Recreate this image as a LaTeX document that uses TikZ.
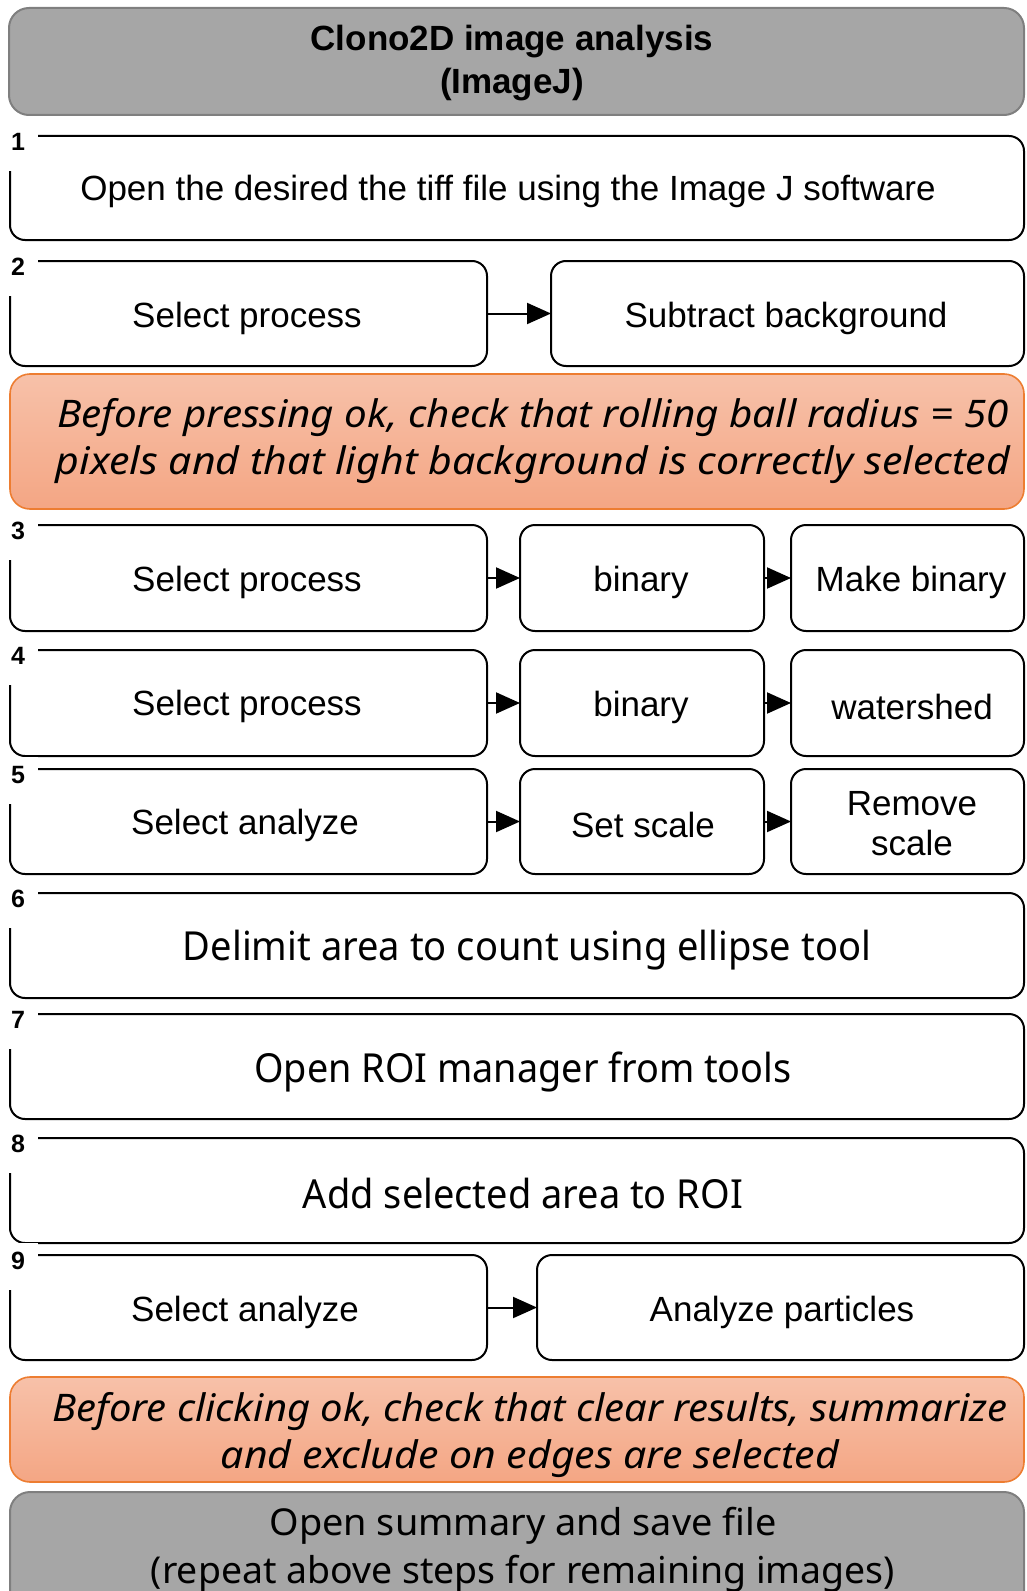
\documentclass[tikz,border=0pt]{standalone}
\usepackage{fontspec}
\usepackage{graphicx}
\setmainfont{Liberation Sans}
\newfontfamily\seg{Noto Sans}
\usetikzlibrary{arrows.meta}
\definecolor{hdrfill}{RGB}{166,166,166}
\definecolor{hdrdraw}{RGB}{127,127,127}
\definecolor{orgdraw}{RGB}{237,125,49}
\definecolor{orgtop}{RGB}{247,193,169}
\definecolor{orgbot}{RGB}{244,166,132}
\newcommand\fitw[2]{\resizebox{#1bp}{\height}{#2}}
\newcommand\mkbox[6]{%
  \node[#1, minimum width={(#5-#3)*1bp}, minimum height={(#6-#4)*1bp}] (#2) at ({(#3+#5)/2},{(#4+#6)/2}) {};}
\newcommand\mknum[3]{%
  \fill[white] (0,#2-12) rectangle (38,#2+35);
  \node[numlab] (#1) at (18,#2+6) {#3};}
\begin{document}
\begin{tikzpicture}[x=1bp,y=-1bp,
  stepbox/.style={draw=black, line width=2bp, rounded corners=15bp, fill=white, inner sep=0pt, outer sep=0pt},
  graybox/.style={draw=hdrdraw, line width=2bp, rounded corners=20bp, fill=hdrfill, inner sep=0pt, outer sep=0pt},
  notebox/.style={draw=orgdraw, line width=1.6bp, rounded corners=20bp, top color=orgtop, bottom color=orgbot, inner sep=0pt, outer sep=0pt},
  numlab/.style={font=\bfseries\fontsize{25bp}{25bp}\selectfont, inner sep=0pt},
  txt/.style={font=\fontsize{35bp}{42bp}\selectfont, inner sep=0pt, align=center},
  segtxt/.style={font=\seg\fontsize{40bp}{48bp}\selectfont, inner sep=0pt, align=center},
  notetxt/.style={font=\seg\itshape\fontsize{38bp}{47bp}\selectfont, inner sep=0pt, align=center},
  arr/.style={line width=2bp, -{Triangle[length=24bp,width=21bp]}}
]
\useasboundingbox (0,0) rectangle (1026,1591);
\clip (0,0) rectangle (1026,1591);

% header
\mkbox{graybox}{hdr}{9}{8}{1024}{115}
\node[txt, font=\bfseries\fontsize{35bp}{43bp}\selectfont] (hdrt) at (512,63) {Clono2D image analysis\\(ImageJ)};

% step 1
\mkbox{stepbox}{s1}{10}{136}{1024}{240}
\mknum{n1}{136}{1}
\node[txt] (s1t) at (508,191) {Open the desired the tiff file using the Image J software};

% step 2
\mkbox{stepbox}{s2a}{10}{261}{487}{366}
\mkbox{stepbox}{s2b}{551}{261}{1024}{366}
\mknum{n2}{261}{2}
\node[txt] (s2at) at (247,318) {Select process};
\node[txt] (s2bt) at (786,318) {Subtract background};
\draw[arr] (s2a.east) -- (s2b.west);

% note 1
\mkbox{notebox}{o1}{10}{374}{1024}{509}
\node[notetxt] (o1t) at (533,441) {\fitw{951}{Before pressing ok, check that rolling ball radius = 50}\\\fitw{954}{pixels and that light background is correctly selected}};

% step 3
\mkbox{stepbox}{s3a}{10}{525}{487}{631}
\mkbox{stepbox}{s3b}{520}{525}{764}{631}
\mkbox{stepbox}{s3c}{791}{525}{1024}{631}
\mknum{n3}{525}{3}
\node[txt] (s3at) at (247,582) {Select process};
\node[txt] (s3bt) at (641,582) {binary};
\node[txt] (s3ct) at (911,582) {Make binary};
\draw[arr] (s3a.east) -- (s3b.west);
\draw[arr] (s3b.east) -- (s3c.west);

% step 4
\mkbox{stepbox}{s4a}{10}{650}{487}{756}
\mkbox{stepbox}{s4b}{520}{650}{764}{756}
\mkbox{stepbox}{s4c}{791}{650}{1024}{756}
\mknum{n4}{650}{4}
\node[txt] (s4at) at (247,706) {Select process};
\node[txt] (s4bt) at (641,707) {binary};
\node[txt] (s4ct) at (912,707) {watershed};
\draw[arr] (s4a.east) -- (s4b.west);
\draw[arr] (s4b.east) -- (s4c.west);

% step 5
\mkbox{stepbox}{s5a}{10}{769}{487}{874}
\mkbox{stepbox}{s5b}{520}{769}{764}{874}
\mkbox{stepbox}{s5c}{791}{769}{1024}{874}
\mknum{n5}{769}{5}
\node[txt] (s5at) at (245,825) {Select analyze};
\node[txt] (s5bt) at (643,825) {Set scale};
\node[txt, font=\fontsize{35bp}{40bp}\selectfont] (s5ct) at (912,824) {Remove\\scale};
\draw[arr] (s5a.east) -- (s5b.west);
\draw[arr] (s5b.east) -- (s5c.west);

% step 6
\mkbox{stepbox}{s6}{10}{893}{1024}{998}
\mknum{n6}{893}{6}
\node[segtxt] (s6t) at (527,950) {\fitw{688}{Delimit area to count using ellipse tool}};

% step 7
\mkbox{stepbox}{s7}{10}{1014}{1024}{1119}
\mknum{n7}{1014}{7}
\node[segtxt] (s7t) at (523,1072) {\fitw{537}{Open ROI manager from tools}};

% step 8
\mkbox{stepbox}{s8}{10}{1138}{1024}{1243}
\mknum{n8}{1138}{8}
\node[segtxt] (s8t) at (523,1193) {\fitw{440}{Add selected area to ROI}};

% step 9
\mkbox{stepbox}{s9a}{10}{1255}{487}{1360}
\mkbox{stepbox}{s9b}{537}{1255}{1024}{1360}
\mknum{n9}{1255}{9}
\node[txt] (s9at) at (245,1312) {Select analyze};
\node[txt] (s9bt) at (782,1312) {Analyze particles};
\draw[arr] (s9a.east) -- (s9b.west);

% note 2
\mkbox{notebox}{o2}{10}{1377}{1024}{1482}
\node[notetxt] (o2t) at (530,1435) {\fitw{955}{Before clicking ok, check that clear results, summarize}\\\fitw{618}{and exclude on edges are selected}};

% footer
\mkbox{graybox}{ftr}{10}{1492}{1024}{1620}
\node[segtxt, font=\seg\fontsize{37bp}{48bp}\selectfont] (ftrt) at (523,1550) {\fitw{507}{Open summary and save file}\\\fitw{744}{(repeat above steps for remaining images)}};
\end{tikzpicture}
\end{document}
